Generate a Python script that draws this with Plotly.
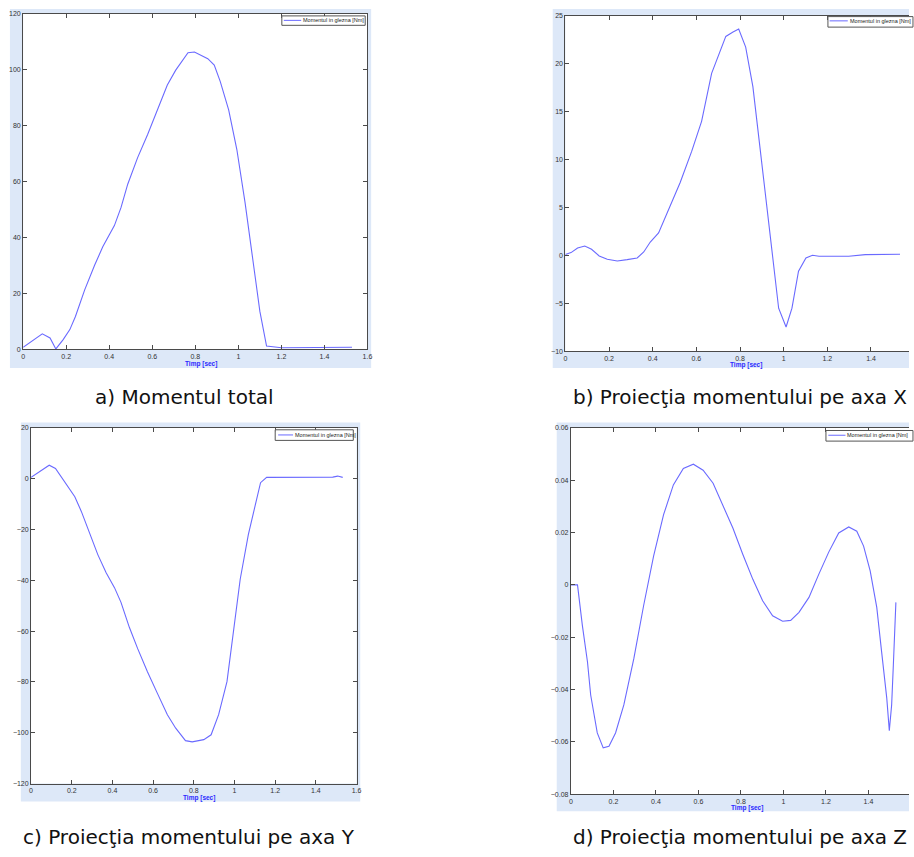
import plotly.graph_objects as go

W, H = 914, 857

# ---- data: ankle moment components over the stance phase ----
# a) total moment [Nm]
t_total = [0.0, 0.089, 0.125, 0.152, 0.186, 0.217, 0.243, 0.286, 0.332, 0.37, 0.424,
           0.455, 0.486, 0.532, 0.578, 0.624, 0.67, 0.709, 0.766, 0.796, 0.858, 0.888,
           0.916, 0.955, 0.993, 1.031, 1.07, 1.1, 1.131, 1.2, 1.528]
m_total = [0.8, 5.6, 4.1, 0.2, 3.5, 7.1, 11.8, 21.3, 30.1, 36.7, 44.3,
           50.8, 59.1, 68.6, 76.8, 85.7, 94.6, 99.9, 106.1, 106.4, 104.0, 101.7,
           95.8, 85.7, 71.5, 52.6, 31.3, 13.6, 1.2, 0.6, 0.8]

# b) projection on X [Nm]
t_x = [0.0, 0.026, 0.056, 0.089, 0.12, 0.155, 0.192, 0.238, 0.283, 0.329, 0.359,
       0.389, 0.427, 0.473, 0.526, 0.579, 0.624, 0.67, 0.705, 0.735, 0.768, 0.794,
       0.826, 0.859, 0.889, 0.92, 0.95, 0.977, 1.011, 1.038, 1.068, 1.102, 1.132,
       1.162, 1.298, 1.374, 1.533]
m_x = [0.07, 0.28, 0.76, 0.97, 0.62, -0.07, -0.41, -0.59, -0.45, -0.28, 0.34,
       1.38, 2.34, 4.83, 7.59, 10.86, 13.97, 18.97, 21.0, 22.83, 23.28, 23.59,
       21.72, 17.59, 11.72, 5.52, -0.69, -5.52, -7.48, -5.52, -1.66, -0.28, 0.0,
       -0.1, -0.1, 0.07, 0.1]

# c) projection on Y [Nm]
t_y = [0.0, 0.089, 0.12, 0.158, 0.215, 0.247, 0.288, 0.328, 0.369, 0.41, 0.442,
       0.483, 0.524, 0.572, 0.621, 0.67, 0.711, 0.759, 0.792, 0.849, 0.885, 0.922,
       0.963, 0.995, 1.028, 1.068, 1.085, 1.106, 1.128, 1.158, 1.239, 1.483, 1.507,
       1.532]
m_y = [0.5, 5.3, 4.0, -0.6, -7.1, -12.9, -21.4, -29.9, -37.0, -42.9, -48.7,
       -58.5, -66.9, -76.0, -84.5, -92.9, -98.2, -103.1, -103.6, -102.7, -100.8, -92.9,
       -79.9, -60.4, -39.6, -22.0, -16.2, -9.7, -1.6, 0.5, 0.5, 0.6, 1.0,
       0.5]

# d) projection on Z [Nm]
t_z = [0.0, 0.031, 0.054, 0.078, 0.093, 0.124, 0.152, 0.179, 0.21, 0.249, 0.296,
       0.342, 0.389, 0.436, 0.482, 0.529, 0.576, 0.622, 0.669, 0.715, 0.762, 0.809,
       0.856, 0.902, 0.949, 0.996, 1.034, 1.073, 1.12, 1.166, 1.213, 1.26, 1.307,
       1.345, 1.377, 1.408, 1.439, 1.462, 1.486, 1.498, 1.509, 1.517, 1.529]
m_z = [0.0, 0.0, -0.0156, -0.0295, -0.0421, -0.0566, -0.0623, -0.0617, -0.0566, -0.0459, -0.0282,
       -0.0080, 0.0110, 0.0268, 0.0382, 0.0445, 0.0461, 0.0438, 0.0388, 0.0306, 0.0217, 0.0116,
       0.0021, -0.0061, -0.0118, -0.0139, -0.0136, -0.0105, -0.0048, 0.0040, 0.0125, 0.0198, 0.0221,
       0.0205, 0.0148, 0.0053, -0.0086, -0.0257, -0.0433, -0.0557, -0.0459, -0.0307, -0.0067]

captions = ["a) Momentul total",
            "b) Proiecţia momentului pe axa X",
            "c) Proiecţia momentului pe axa Y",
            "d) Proiecţia momentului pe axa Z"]
legend_label = "Momentul in glezna [Nm]"
x_title = "Timp [sec]"

# ---- layout geometry (pixels in the page) ----
def fx(p):
    return p / W

def fy(p):
    return 1 - p / H

panels = [
    # figure bg box, axes box (l, r, t, b), x range, y range, y step,
    # legend box (l, r, t, b), line (x0, x1, y), caption (x, y, anchor), xlabel (x, y)
    dict(t=t_total, m=m_total, bg=(8, 372, 5, 367), box=(21.3, 368.3, 10, 348.3),
         xr=(0, 1.6), yr=(0, 120), dy=20, leg=(282, 366, 12, 21.5), legline=(284, 301.5, 16.5),
         cap=(93, 396, "left"), xl=(201, 362.5)),
    dict(t=t_x, m=m_x, bg=(555, 914, 5, 367), box=(567.7, 919.7, 11.7, 350),
         xr=(0, 1.6), yr=(-10, 25), dy=5, leg=(832.3, 918, 12.7, 23.3), legline=(834, 852.3, 17),
         cap=(913, 396, "right"), xl=(750, 363.5)),
    dict(t=t_y, m=m_y, bg=(19, 361, 422, 804), box=(29.3, 357.3, 427.3, 786),
         xr=(0, 1.6), yr=(-120, 20), dy=20, leg=(275.3, 354, 429.3, 440), legline=(278.3, 293.3, 434.5),
         cap=(20, 840, "left"), xl=(199, 800.5)),
    dict(t=t_z, m=m_z, bg=(559, 914, 422, 814), box=(573.3, 916, 427.3, 796.7),
         xr=(0, 1.6), yr=(-0.08, 0.06), dy=0.02, leg=(830.3, 918, 430, 440.7), legline=(832.7, 850, 434.8),
         cap=(574, 840, "left"), xl=(750.7, 810.5)),
]

LINE_BLUE = "#6a6aff"
FRAME = "#4a4a4a"
BG_BLUE = "#dde8f8"

fig = go.Figure()
shapes = []
annotations = []
layout_axes = {}

for i, p in enumerate(panels, start=1):
    xname = "xaxis" if i == 1 else f"xaxis{i}"
    yname = "yaxis" if i == 1 else f"yaxis{i}"
    xref = "x" if i == 1 else f"x{i}"
    yref = "y" if i == 1 else f"y{i}"

    l, r, t, b = p["box"]
    # axes that run past the page edge are clipped at the edge
    r_clip = min(r, W)
    x0, x1 = p["xr"]
    x1_clip = x0 + (x1 - x0) * (r_clip - l) / (r - l)
    clipped = r > W

    fig.add_trace(go.Scatter(x=p["t"], y=p["m"], mode="lines",
                             line=dict(color=LINE_BLUE, width=1.1),
                             xaxis=xref, yaxis=yref, showlegend=False,
                             name=legend_label))

    tickfont = dict(family="Liberation Sans, Arial", size=7, color="#333333")
    layout_axes[xname] = dict(
        domain=[fx(l), fx(r_clip)], range=[x0, x1_clip], anchor=yref,
        dtick=0.2, tick0=0, ticks="inside", ticklen=4, tickcolor=FRAME,
        showline=True, linecolor=FRAME, linewidth=1, mirror="allticks",
        showgrid=False, zeroline=False, tickfont=tickfont, fixedrange=True,
    )
    layout_axes[yname] = dict(
        domain=[fy(b), fy(t)], range=list(p["yr"]), anchor=xref,
        dtick=p["dy"], tick0=0, ticks="inside", ticklen=4, tickcolor=FRAME,
        showline=True, linecolor=FRAME, linewidth=1,
        mirror=False if clipped else "allticks",
        showgrid=False, zeroline=False, tickfont=tickfont, fixedrange=True,
    )

    # figure-window background and white axes area
    bl, br, bt, bb = p["bg"]
    shapes.append(dict(type="rect", xref="paper", yref="paper", layer="below",
                       x0=fx(bl), x1=fx(br), y0=fy(bb), y1=fy(bt),
                       fillcolor=BG_BLUE, line=dict(width=0)))
    shapes.append(dict(type="rect", xref="paper", yref="paper", layer="below",
                       x0=fx(l), x1=fx(r_clip), y0=fy(b), y1=fy(t),
                       fillcolor="white", line=dict(width=0)))

    # legend box
    ll, lr, lt, lb = p["leg"]
    shapes.append(dict(type="rect", xref="paper", yref="paper", layer="above",
                       x0=fx(ll), x1=fx(min(lr, W + 5)), y0=fy(lb), y1=fy(lt),
                       fillcolor="white", line=dict(color="#555555", width=1)))
    lx0, lx1, ly = p["legline"]
    shapes.append(dict(type="line", xref="paper", yref="paper", layer="above",
                       x0=fx(lx0), x1=fx(lx1), y0=fy(ly), y1=fy(ly),
                       line=dict(color=LINE_BLUE, width=1)))
    annotations.append(dict(text=legend_label, xref="paper", yref="paper",
                            x=fx(lx1 + 1), y=fy(ly), xanchor="left", yanchor="middle",
                            showarrow=False, borderpad=0,
                            font=dict(family="Liberation Sans, Arial", size=5.5, color="#222222")))

    # x-axis label
    xlx, xly = p["xl"]
    annotations.append(dict(text=f"<b>{x_title}</b>", xref="paper", yref="paper",
                            x=fx(xlx), y=fy(xly), xanchor="center", yanchor="middle",
                            showarrow=False, borderpad=0,
                            font=dict(family="Liberation Sans, Arial", size=6.5, color="#2a2aff")))

    # caption under the panel
    cx, cy, canchor = p["cap"]
    annotations.append(dict(text=captions[i - 1], xref="paper", yref="paper",
                            x=fx(cx), y=fy(cy), xanchor=canchor, yanchor="middle",
                            showarrow=False, borderpad=0,
                            font=dict(family="DejaVu Sans, Verdana", size=20, color="#111111")))

fig.update_layout(
    width=W, height=H,
    margin=dict(l=0, r=0, t=0, b=0),
    paper_bgcolor="white",
    plot_bgcolor="rgba(0,0,0,0)",
    shapes=shapes,
    annotations=annotations,
    showlegend=False,
    **layout_axes,
)

fig.write_html("out.html", config={"displayModeBar": False})
